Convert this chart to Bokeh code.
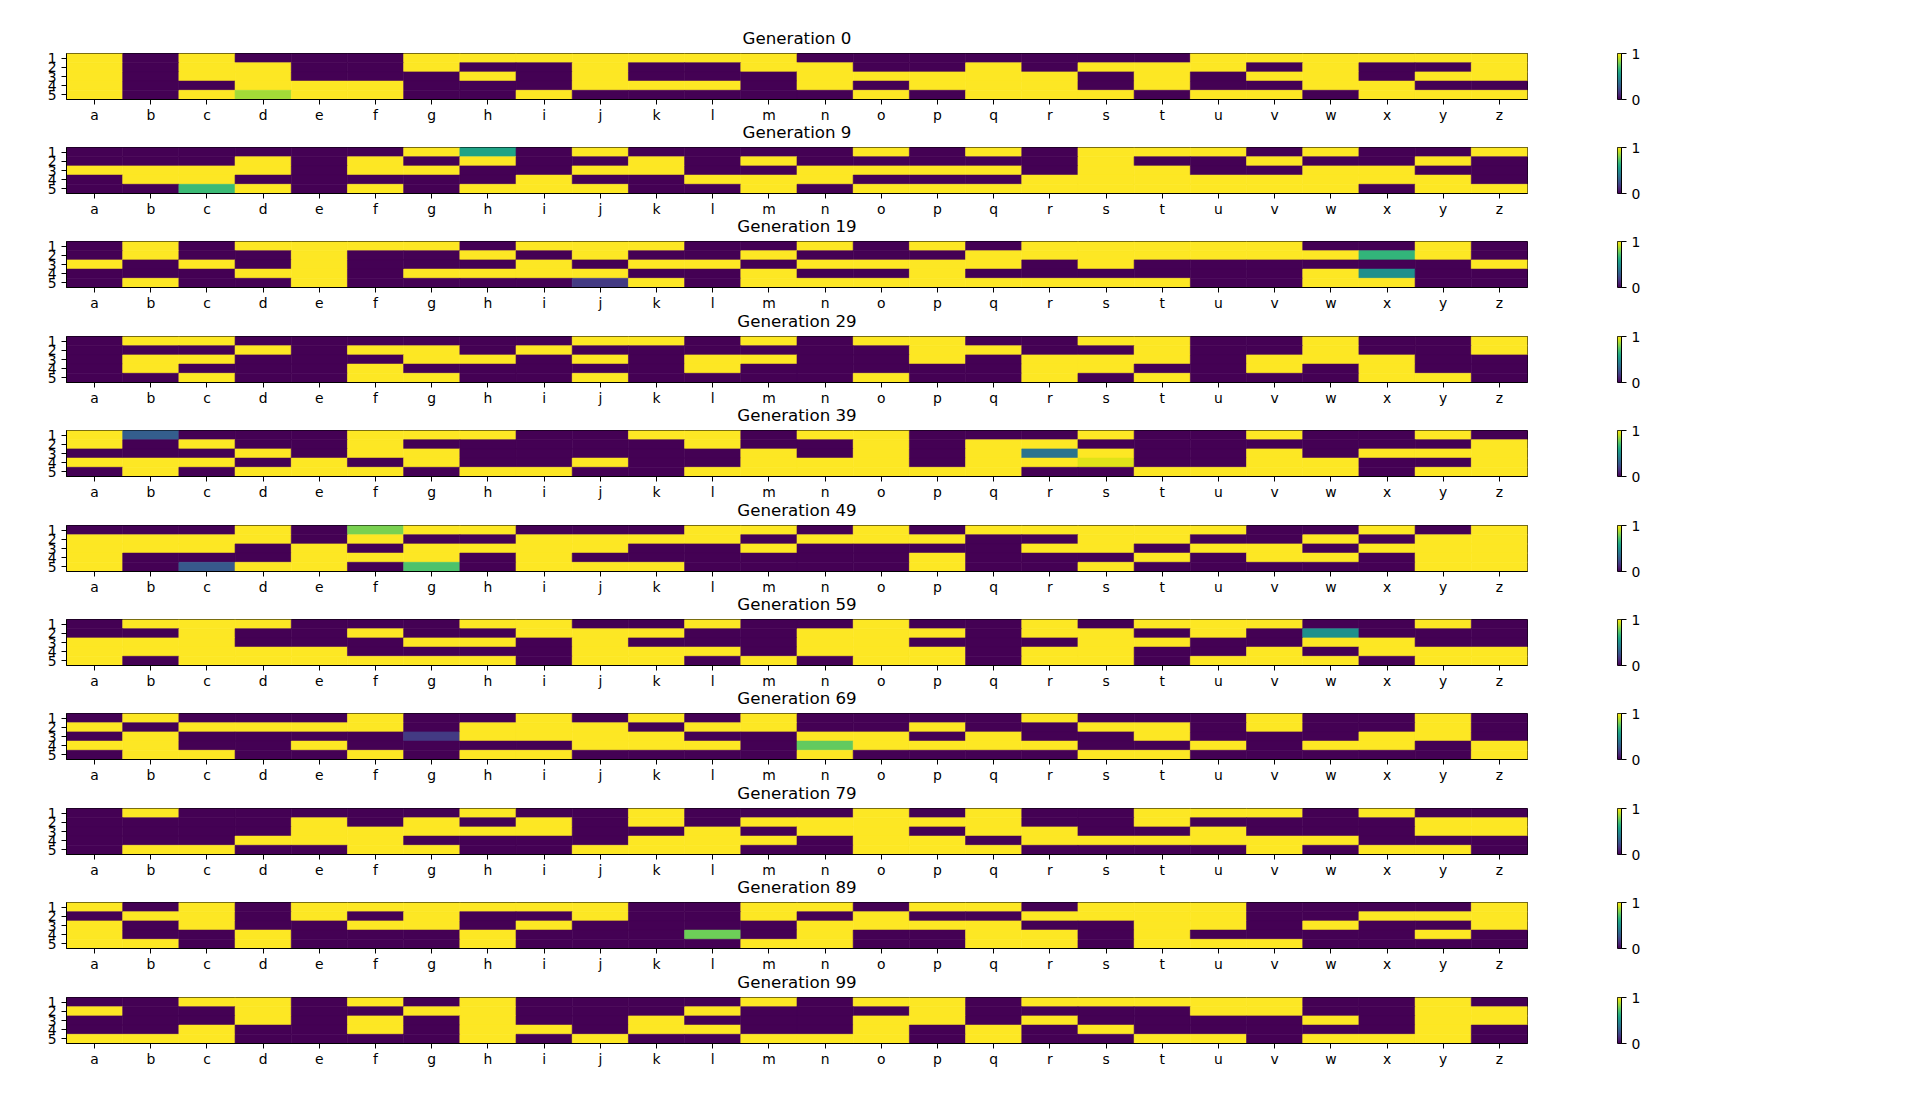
import numpy as np
from bokeh.plotting import figure
from bokeh.models import (FactorRange, Range1d, LinearAxis, FixedTicker, Title,
                          LinearColorMapper, ColumnDataSource, Row, Column)
from bokeh.palettes import Viridis256
from bokeh.transform import linear_cmap
from bokeh.embed import file_html
from bokeh.resources import INLINE

letters = list("abcdefghijklmnopqrstuvwxyz")
row_labels = ["1", "2", "3", "4", "5"]
generations = [0, 9, 19, 29, 39, 49, 59, 69, 79, 89, 99]

gen_0 = [
    [1, 0, 1, 0, 0, 0, 1, 1, 1, 1, 1, 1, 1, 0, 0, 0, 0, 0, 0, 0, 1, 1, 1, 1, 1, 1],
    [1, 0, 1, 1, 0, 0, 1, 0, 0, 1, 0, 0, 1, 1, 0, 0, 1, 0, 1, 1, 1, 0, 1, 0, 0, 1],
    [1, 0, 1, 1, 0, 0, 0, 1, 0, 1, 0, 0, 0, 1, 1, 1, 1, 1, 0, 1, 0, 1, 1, 0, 1, 1],
    [1, 0, 0, 1, 1, 1, 0, 0, 0, 1, 1, 1, 0, 1, 0, 1, 1, 1, 0, 1, 0, 0, 1, 1, 0, 0],
    [1, 0, 1, 0.86, 1, 1, 0, 0, 1, 0, 0, 0, 0, 0, 1, 0, 1, 1, 1, 0, 1, 1, 0, 1, 1, 1],
]
gen_9 = [
    [0, 0, 0, 0, 0, 0, 1, 0.58, 0, 1, 0, 0, 0, 0, 1, 0, 1, 0, 1, 1, 1, 0, 1, 0, 0, 1],
    [0, 0, 0, 1, 0, 1, 0, 1, 0, 0, 1, 0, 1, 0, 0, 0, 0, 0, 1, 0, 0, 1, 0, 0, 1, 0],
    [1, 1, 1, 1, 0, 1, 1, 0, 0, 1, 1, 0, 0, 1, 1, 1, 1, 0, 1, 1, 0, 0, 1, 1, 0, 0],
    [0, 1, 1, 0, 0, 0, 0, 0, 1, 0, 0, 1, 1, 1, 0, 0, 0, 1, 1, 1, 1, 1, 1, 1, 1, 0],
    [0, 0, 0.68, 1, 0, 1, 0, 1, 1, 1, 0, 0, 1, 0, 1, 1, 1, 1, 1, 1, 1, 1, 1, 0, 1, 1],
]
gen_19 = [
    [0, 1, 0, 1, 1, 1, 1, 0, 1, 1, 1, 0, 0, 1, 0, 1, 0, 1, 1, 1, 1, 1, 0, 0, 1, 0],
    [0, 1, 0, 0, 1, 0, 0, 1, 0, 1, 0, 0, 1, 0, 0, 0, 1, 1, 1, 1, 1, 1, 1, 0.66, 1, 0],
    [1, 0, 1, 0, 1, 0, 0, 0, 1, 0, 1, 1, 0, 1, 1, 1, 1, 0, 1, 0, 0, 0, 0, 0, 0, 1],
    [0, 0, 0, 1, 1, 0, 1, 1, 1, 1, 0, 0, 1, 0, 0, 1, 0, 0, 0, 0, 0, 0, 1, 0.5, 0, 0],
    [0, 1, 0, 0, 1, 0, 0, 0, 0, 0.17, 1, 0, 1, 1, 1, 1, 1, 1, 1, 1, 0, 0, 1, 1, 0, 0],
]
gen_29 = [
    [0, 1, 1, 0, 0, 0, 0, 0, 0, 1, 1, 0, 1, 0, 1, 1, 0, 0, 1, 1, 0, 0, 1, 0, 0, 1],
    [0, 0, 0, 1, 0, 1, 1, 0, 1, 0, 0, 0, 0, 0, 0, 1, 1, 0, 0, 1, 0, 0, 1, 0, 0, 1],
    [0, 1, 1, 0, 0, 0, 1, 1, 0, 1, 0, 1, 1, 0, 0, 1, 0, 1, 1, 1, 0, 1, 1, 1, 0, 0],
    [0, 1, 0, 0, 0, 1, 0, 0, 0, 0, 0, 1, 0, 0, 0, 0, 0, 1, 1, 0, 0, 1, 0, 1, 0, 0],
    [0, 0, 1, 0, 0, 1, 1, 0, 0, 1, 0, 0, 0, 0, 1, 0, 0, 1, 0, 1, 0, 0, 0, 1, 1, 0],
]
gen_39 = [
    [1, 0.3, 0, 0, 0, 1, 1, 1, 0, 0, 1, 1, 0, 1, 1, 0, 0, 0, 1, 0, 0, 1, 0, 0, 1, 0],
    [1, 0, 1, 0, 0, 1, 0, 0, 0, 0, 0, 1, 0, 0, 1, 0, 1, 1, 0, 0, 0, 0, 0, 0, 0, 1],
    [0, 0, 0, 1, 0, 1, 1, 0, 0, 0, 0, 0, 1, 0, 1, 0, 1, 0.38, 1, 0, 0, 1, 0, 1, 1, 1],
    [1, 1, 1, 0, 1, 0, 1, 0, 0, 1, 0, 0, 1, 1, 1, 0, 1, 1, 0.95, 0, 0, 1, 1, 0, 0, 1],
    [0, 1, 0, 1, 1, 1, 0, 1, 1, 0, 0, 1, 1, 1, 1, 1, 1, 0, 0, 1, 1, 1, 1, 0, 1, 1],
]
gen_49 = [
    [0, 0, 0, 1, 0, 0.8, 1, 1, 0, 0, 0, 1, 1, 0, 1, 0, 1, 1, 1, 1, 1, 0, 0, 1, 0, 1],
    [1, 1, 1, 1, 0, 1, 0, 0, 1, 1, 1, 1, 0, 1, 1, 1, 0, 0, 1, 1, 0, 0, 1, 0, 1, 1],
    [1, 1, 1, 0, 1, 0, 1, 1, 1, 1, 0, 0, 1, 0, 0, 0, 0, 1, 1, 0, 1, 1, 0, 1, 1, 1],
    [1, 0, 0, 0, 1, 1, 1, 0, 1, 0, 0, 0, 0, 0, 0, 1, 0, 0, 0, 1, 0, 1, 1, 0, 1, 1],
    [1, 0, 0.28, 1, 1, 0, 0.72, 0, 1, 1, 1, 0, 0, 0, 0, 1, 0, 0, 1, 0, 0, 0, 0, 0, 1, 1],
]
gen_59 = [
    [0, 1, 1, 1, 0, 0, 0, 1, 1, 0, 0, 1, 0, 0, 1, 0, 0, 1, 0, 1, 1, 1, 0, 0, 1, 0],
    [0, 0, 1, 0, 0, 1, 0, 0, 1, 1, 1, 0, 0, 1, 1, 1, 0, 1, 1, 0, 1, 0, 0.5, 0, 0, 0],
    [1, 1, 1, 0, 0, 0, 1, 1, 0, 1, 0, 0, 0, 1, 1, 0, 0, 0, 1, 1, 0, 0, 1, 1, 0, 0],
    [1, 1, 1, 1, 1, 0, 0, 0, 0, 1, 1, 1, 0, 1, 1, 1, 0, 1, 1, 0, 0, 1, 0, 1, 1, 1],
    [1, 0, 1, 1, 1, 1, 1, 1, 0, 1, 1, 0, 1, 0, 1, 1, 0, 1, 1, 0, 1, 1, 1, 0, 1, 1],
]
gen_69 = [
    [0, 1, 0, 0, 0, 1, 0, 0, 1, 0, 1, 0, 1, 0, 0, 0, 0, 1, 0, 0, 0, 1, 0, 0, 1, 0],
    [1, 0, 1, 1, 1, 1, 0, 1, 1, 1, 0, 1, 1, 0, 0, 1, 0, 0, 1, 1, 0, 1, 0, 0, 1, 0],
    [0, 1, 0, 0, 0, 0, 0.17, 1, 1, 1, 1, 0, 0, 1, 1, 0, 1, 0, 0, 1, 0, 0, 0, 1, 1, 0],
    [1, 1, 0, 0, 1, 0, 0, 0, 0, 1, 1, 1, 0, 0.76, 1, 1, 1, 1, 0, 0, 1, 0, 1, 1, 0, 1],
    [0, 1, 1, 0, 0, 1, 0, 1, 1, 0, 0, 0, 0, 1, 0, 0, 0, 0, 1, 1, 0, 0, 0, 0, 0, 1],
]
gen_79 = [
    [0, 1, 0, 0, 0, 0, 0, 1, 0, 0, 1, 0, 0, 0, 1, 0, 1, 0, 0, 1, 1, 1, 0, 1, 0, 0],
    [0, 0, 0, 0, 1, 0, 1, 0, 1, 0, 1, 0, 1, 1, 1, 1, 1, 0, 0, 1, 0, 0, 0, 0, 1, 1],
    [0, 0, 0, 0, 1, 1, 1, 1, 1, 0, 0, 1, 0, 1, 1, 0, 1, 1, 0, 0, 1, 0, 0, 0, 1, 1],
    [0, 0, 0, 1, 1, 1, 0, 0, 0, 0, 1, 1, 1, 0, 1, 1, 0, 1, 1, 1, 1, 1, 1, 0, 0, 0],
    [0, 1, 1, 0, 0, 1, 1, 0, 0, 1, 1, 1, 0, 0, 1, 1, 1, 0, 0, 0, 0, 1, 0, 1, 1, 0],
]
gen_89 = [
    [1, 0, 1, 0, 1, 1, 1, 1, 1, 1, 0, 0, 1, 1, 0, 1, 1, 0, 1, 1, 1, 0, 0, 0, 0, 1],
    [0, 1, 1, 0, 1, 0, 1, 0, 0, 1, 0, 0, 1, 0, 1, 0, 0, 1, 1, 1, 1, 0, 0, 1, 1, 1],
    [1, 0, 1, 0, 0, 1, 1, 0, 1, 0, 0, 0, 0, 1, 1, 1, 1, 0, 0, 1, 1, 0, 1, 0, 0, 1],
    [1, 0, 0, 1, 0, 0, 0, 1, 0, 0, 0, 0.78, 0, 1, 0, 0, 1, 1, 0, 1, 0, 0, 0, 0, 1, 0],
    [1, 1, 0, 1, 0, 0, 0, 1, 0, 0, 0, 0, 1, 1, 0, 0, 1, 1, 0, 1, 1, 1, 0, 0, 0, 0],
]
gen_99 = [
    [0, 0, 1, 1, 0, 1, 0, 1, 0, 0, 0, 0, 1, 0, 1, 1, 0, 1, 1, 1, 1, 1, 0, 0, 1, 0],
    [1, 0, 0, 1, 0, 0, 1, 1, 0, 0, 0, 1, 0, 0, 0, 1, 0, 0, 0, 0, 1, 1, 0, 0, 1, 1],
    [0, 0, 0, 1, 0, 1, 0, 1, 0, 0, 1, 0, 0, 0, 1, 1, 0, 1, 0, 0, 0, 0, 1, 0, 1, 1],
    [0, 0, 1, 0, 0, 1, 0, 1, 1, 0, 1, 1, 0, 0, 1, 0, 1, 0, 1, 0, 0, 0, 0, 0, 1, 0],
    [1, 1, 1, 0, 0, 0, 0, 1, 0, 1, 0, 0, 1, 1, 1, 0, 1, 0, 0, 1, 1, 0, 1, 1, 1, 0],
]

matrices = [gen_0, gen_9, gen_19, gen_29, gen_39, gen_49, gen_59, gen_69, gen_79, gen_89, gen_99]

FONT = "DejaVu Sans"
TICK_FS = "13.9px"
TITLE_FS = "16.67px"

# page positions of each heatmap's top edge; figures overlap in their
# transparent borders so that titles and tick labels sit as in the original
frame_tops = [53, 147, 241, 336, 430, 525, 619, 713, 808, 902, 997]
FRAME_H = 46
PAD = 40


def style_axis(ax, standoff):
    ax.major_tick_out = 5
    ax.major_tick_in = 0
    ax.minor_tick_out = 0
    ax.minor_tick_in = 0
    ax.major_label_standoff = standoff
    ax.axis_line_color = "black"
    ax.major_tick_line_color = "black"
    ax.major_label_text_font = FONT
    ax.major_label_text_font_size = TICK_FS
    ax.major_label_text_color = "black"


rows = []
for i, (gen, mat) in enumerate(zip(generations, matrices)):
    top = frame_tops[0] if i == 0 else PAD
    bottom = PAD
    h = top + FRAME_H + bottom
    if i == 0:
        margin = (0, 0, 0, 0)
    else:
        prev_bottom = frame_tops[i - 1] + FRAME_H + PAD
        margin = ((frame_tops[i] - PAD) - prev_bottom, 0, 0, 0)

    xs, ys, vs = [], [], []
    for r, vals in enumerate(mat):
        for c, v in enumerate(vals):
            xs.append(letters[c])
            ys.append(row_labels[r])
            vs.append(v)
    src = ColumnDataSource(dict(x=xs, y=ys, v=vs))

    p = figure(width=1537, height=h,
               x_range=FactorRange(*letters),
               y_range=FactorRange(*row_labels[::-1]),
               output_backend="svg", toolbar_location=None,
               min_border_left=66, min_border_right=10,
               min_border_top=top, min_border_bottom=bottom)
    p.add_layout(Title(text=f"Generation {gen}", align="center",
                       text_font=FONT, text_font_size=TITLE_FS,
                       text_font_style="normal", text_color="black",
                       standoff=11), "above")
    cmap = linear_cmap("v", Viridis256, 0, 1)
    p.rect(x="x", y="y", width=1, height=1, source=src,
           fill_color=cmap, line_color=cmap, line_width=0.6)
    p.grid.visible = False
    p.outline_line_color = "black"
    p.outline_line_width = 1
    p.background_fill_color = "white"
    p.border_fill_color = None
    style_axis(p.xaxis[0], 2)
    style_axis(p.yaxis[0], 5)

    cb = figure(width=114, height=h, x_range=Range1d(0, 1), y_range=Range1d(0, 1),
                output_backend="svg", toolbar_location=None,
                x_axis_location=None, y_axis_location=None,
                min_border_left=80, min_border_right=30,
                min_border_top=top, min_border_bottom=bottom)
    grad = np.linspace(0, 1, 256).reshape(256, 1)
    cb.image(image=[grad], x=0, y=0, dw=1, dh=1,
             color_mapper=LinearColorMapper(palette=Viridis256, low=0, high=1))
    cax = LinearAxis(ticker=FixedTicker(ticks=[0, 1]))
    style_axis(cax, 5)
    cb.add_layout(cax, "right")
    cb.grid.visible = False
    cb.outline_line_color = "black"
    cb.outline_line_width = 1
    cb.border_fill_color = None

    rows.append(Row(children=[p, cb], margin=margin))

layout = Column(children=rows)
open("out.html", "w").write(file_html(layout, INLINE))
